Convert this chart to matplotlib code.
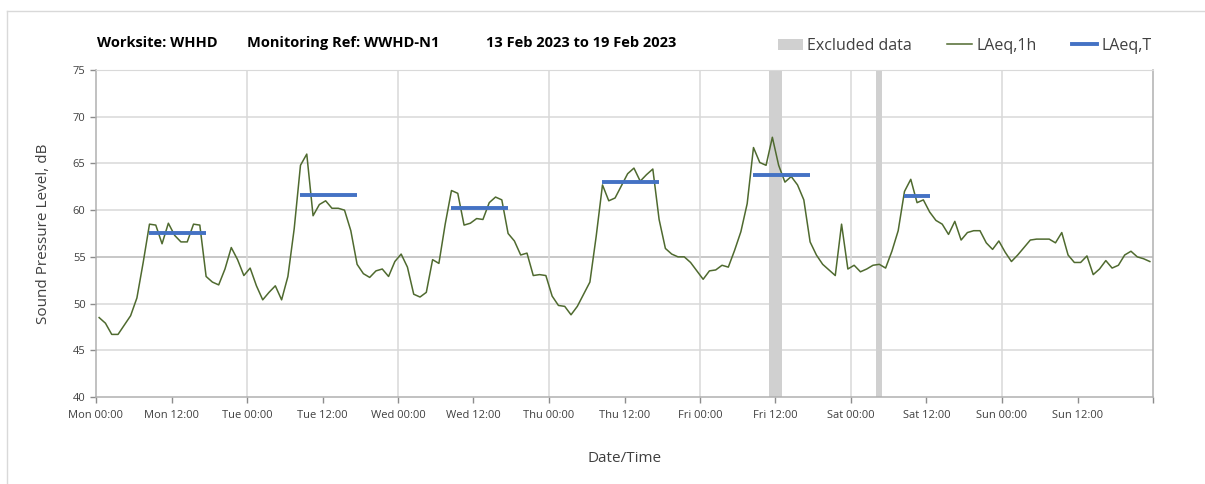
import matplotlib
matplotlib.use("Agg")
import matplotlib.pyplot as plt
from matplotlib.patches import Patch
from matplotlib.lines import Line2D
import numpy as np

# ---- data ----
laeq_1h = [
    48.5, 47.9, 46.7, 46.7, 47.7, 48.7, 50.6, 54.4, 58.5, 58.4, 56.4, 58.6,
    57.3, 56.6, 56.6, 58.5, 58.4, 52.9, 52.3, 52.0, 53.7, 56.0, 54.7, 53.0,
    53.8, 51.9, 50.4, 51.2, 51.9, 50.4, 52.9, 58.0, 64.8, 66.0, 59.4, 60.6,
    61.0, 60.2, 60.2, 60.0, 57.8, 54.2, 53.2, 52.8, 53.5, 53.7, 52.9, 54.5,
    55.3, 53.9, 51.0, 50.7, 51.2, 54.7, 54.3, 58.5, 62.1, 61.8, 58.4, 58.6,
    59.1, 59.0, 60.8, 61.4, 61.1, 57.5, 56.7, 55.2, 55.4, 53.0, 53.1, 53.0,
    50.8, 49.8, 49.7, 48.8, 49.7, 51.0, 52.3, 57.2, 62.7, 61.0, 61.3, 62.6,
    63.9, 64.5, 63.1, 63.8, 64.4, 59.0, 55.9, 55.3, 55.0, 55.0, 54.4, 53.5,
    52.6, 53.5, 53.6, 54.1, 53.9, 55.7, 57.7, 60.7, 66.7, 65.1, 64.8, 67.8,
    64.8, 63.0, 63.6, 62.7, 61.1, 56.6, 55.2, 54.2, 53.6, 53.0, 58.5, 53.7,
    54.1, 53.4, 53.7, 54.1, 54.2, 53.8, 55.6, 57.8, 62.0, 63.3, 60.8, 61.1,
    59.8, 58.9, 58.5, 57.4, 58.8, 56.8, 57.6, 57.8, 57.8, 56.5, 55.8, 56.7,
    55.5, 54.5, 55.2, 56.0, 56.8, 56.9, 56.9, 56.9, 56.5, 57.6, 55.2, 54.4,
    54.4, 55.1, 53.1, 53.7, 54.6, 53.8, 54.1, 55.2, 55.6, 55.0, 54.8, 54.5,
]
# LAeq,T periods: (start hour index, end hour index, level)
laeqT_start = [8, 32, 56, 80, 104, 128]
laeqT_end = [17, 41, 65, 89, 113, 132]
laeqT_level = [57.5, 61.6, 60.2, 63.0, 63.8, 61.5]
# Excluded hours (hour index)
excluded_hours = [107, 108, 124]

tick_labels = ["Mon 00:00", "Mon 12:00", "Tue 00:00", "Tue 12:00", "Wed 00:00",
               "Wed 12:00", "Thu 00:00", "Thu 12:00", "Fri 00:00", "Fri 12:00",
               "Sat 00:00", "Sat 12:00", "Sun 00:00", "Sun 12:00", ""]

plt.rcParams['font.family'] = ['Open Sans', 'DejaVu Sans']

W, H = 1205, 484
fig = plt.figure(figsize=(W / 100, H / 100), dpi=100)
ax = fig.add_axes([96 / W, 1 - 397 / H, (1153 - 96) / W, (397 - 70) / H])

hours = np.arange(len(laeq_1h)) + 0.5

# excluded bands
for h in excluded_hours:
    ax.axvspan(h, h + 1, ymin=0, ymax=1, color='#d0d0d0', lw=0, zorder=1)

# grid
for yv in range(45, 76, 5):
    col = '#b8b8b8' if yv == 55 else '#d9d9d9'
    ax.axhline(yv, color=col, lw=1.1, zorder=0.5)
for xv in range(24, 168, 24):
    ax.axvline(xv, color='#d9d9d9', lw=1.1, zorder=0.5)

ax.plot(hours, laeq_1h, color='#4f6a2f', lw=1.1, zorder=3)
for s, e, v in zip(laeqT_start, laeqT_end, laeqT_level):
    ax.plot([s + 0.5, e + 0.5], [v, v], color='#4472c4', lw=2.8,
            solid_capstyle='butt', zorder=4)

ax.set_xlim(0, 168)
ax.set_ylim(40, 75)
ax.set_yticks(range(40, 76, 5))
ax.set_xticks(np.arange(0, 169, 12))
ax.set_xticklabels(tick_labels)
ax.tick_params(axis='both', colors='#8c8c8c', labelcolor='#404040',
               labelsize=8, length=4, width=1)
ax.tick_params(axis='x', pad=5)

ax.spines['top'].set_color('#d9d9d9')
for side in ['left', 'bottom', 'right']:
    ax.spines[side].set_color('#b0b0b0')
    ax.spines[side].set_linewidth(1.1)

ax.set_ylabel("Sound Pressure Level, dB", fontsize=11, color='#404040', labelpad=16)
ax.set_xlabel("Date/Time", fontsize=11, color='#404040', labelpad=22)

# title parts
fig.text(97 / W, 1 - 43 / H, "Worksite: WHHD", fontsize=10.5, fontweight='bold',
         va='center', ha='left', color='#000000')
fig.text(247 / W, 1 - 43 / H, "Monitoring Ref: WWHD-N1", fontsize=10.5,
         fontweight='bold', va='center', ha='left', color='#000000')
fig.text(486 / W, 1 - 43 / H, "13 Feb 2023 to 19 Feb 2023", fontsize=10.5,
         fontweight='bold', va='center', ha='left', color='#000000')

handles = [Patch(facecolor='#d0d0d0', edgecolor='none'),
           Line2D([], [], color='#4f6a2f', lw=1.1),
           Line2D([], [], color='#4472c4', lw=2.8)]
labels = ["Excluded data", "LAeq,1h", "LAeq,T"]
leg = fig.legend(handles, labels, ncol=3, frameon=False, fontsize=11.5,
                 loc='center left', bbox_to_anchor=(778 / W, 1 - 46 / H),
                 handlelength=1.55, handletextpad=0.25, columnspacing=2.25,
                 borderaxespad=0, borderpad=0)
for t in leg.get_texts():
    t.set_color('#404040')

# outer frame lines (top and left)
fig.add_artist(Line2D([7 / W, 1], [1 - 10.5 / H, 1 - 10.5 / H],
                      transform=fig.transFigure, color='#d9d9d9', lw=1))
fig.add_artist(Line2D([7 / W, 7 / W], [0, 1 - 10.5 / H],
                      transform=fig.transFigure, color='#d9d9d9', lw=1))

fig.savefig("out.png", dpi=100)
